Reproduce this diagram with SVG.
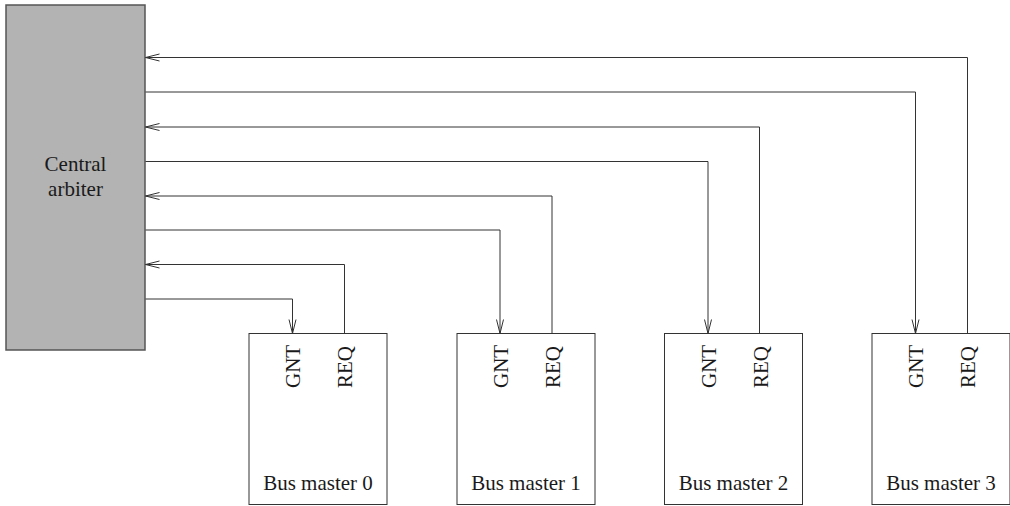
<svg xmlns="http://www.w3.org/2000/svg" width="1010" height="506" viewBox="0 0 1010 506">
  <style>
    .lbl { font-family: "Liberation Serif", "Times New Roman", serif; font-size: 21px; fill: #1a1a1a; }
    .mid { text-anchor: middle; }
    .box { fill: #ffffff; stroke: #333333; stroke-width: 1; }
    .wire { fill: none; stroke: #333333; stroke-width: 1; }
  </style>
  <defs>
    <marker id="arr" markerUnits="userSpaceOnUse" markerWidth="16" markerHeight="10" refX="15" refY="5" orient="auto" overflow="visible">
      <path d="M1,1.5 L15,5 L1,8.5" fill="none" stroke="#333333" stroke-width="1"/>
    </marker>
  </defs>
  <rect width="1010" height="506" fill="#ffffff"/>

  <g id="central-arbiter">
    <rect x="6" y="5" width="139" height="345" fill="#b3b3b3" stroke="#555555" stroke-width="1.5"/>
    <text class="lbl mid" x="75.5" y="171">Central</text>
    <text class="lbl mid" x="75.5" y="196">arbiter</text>
  </g>

  <g id="bus-master-0">
    <rect class="box" x="249" y="333.5" width="138" height="171"/>
    <text class="lbl" transform="translate(300,388) rotate(-90)">GNT</text>
    <text class="lbl" transform="translate(352,388) rotate(-90)">REQ</text>
    <text class="lbl mid" x="318" y="490">Bus master 0</text>
  </g>

  <g id="bus-master-1">
    <rect class="box" x="457" y="333.5" width="138" height="171"/>
    <text class="lbl" transform="translate(508,388) rotate(-90)">GNT</text>
    <text class="lbl" transform="translate(560,388) rotate(-90)">REQ</text>
    <text class="lbl mid" x="526" y="490">Bus master 1</text>
  </g>

  <g id="bus-master-2">
    <rect class="box" x="664.5" y="333.5" width="138" height="171"/>
    <text class="lbl" transform="translate(715.5,388) rotate(-90)">GNT</text>
    <text class="lbl" transform="translate(767.5,388) rotate(-90)">REQ</text>
    <text class="lbl mid" x="733.5" y="490">Bus master 2</text>
  </g>

  <g id="bus-master-3">
    <rect class="box" x="872" y="333.5" width="138" height="171"/>
    <text class="lbl" transform="translate(923,388) rotate(-90)">GNT</text>
    <text class="lbl" transform="translate(975,388) rotate(-90)">REQ</text>
    <text class="lbl mid" x="941" y="490">Bus master 3</text>
  </g>

  <g id="connectors">
    <!-- request lines: master -> arbiter -->
    <path class="wire" marker-end="url(#arr)" d="M344.5,333.5 V264.5 H145.5"/>
    <path class="wire" marker-end="url(#arr)" d="M552,333.5 V196 H145.5"/>
    <path class="wire" marker-end="url(#arr)" d="M759.5,333.5 V127 H145.5"/>
    <path class="wire" marker-end="url(#arr)" d="M967.5,333.5 V57.5 H145.5"/>
    <!-- grant lines: arbiter -> master -->
    <path class="wire" marker-end="url(#arr)" d="M145.5,299 H292.5 V333.5"/>
    <path class="wire" marker-end="url(#arr)" d="M145.5,230 H500 V333.5"/>
    <path class="wire" marker-end="url(#arr)" d="M145.5,161.5 H708 V333.5"/>
    <path class="wire" marker-end="url(#arr)" d="M145.5,92 H915.5 V333.5"/>
  </g>
</svg>
